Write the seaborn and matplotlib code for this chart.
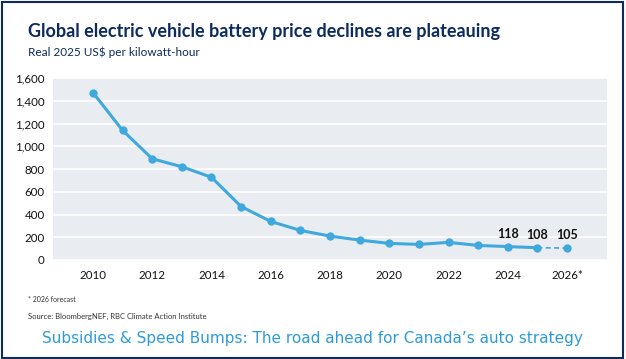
import pandas as pd
import numpy as np
import matplotlib.pyplot as plt
import seaborn as sns

# battery pack prices, real 2025 US$/kWh (2026 is a forecast)
years = [2010, 2011, 2012, 2013, 2014, 2015, 2016, 2017, 2018,
         2019, 2020, 2021, 2022, 2023, 2024, 2025, 2026]
prices = [1471, 1139, 890, 820, 727, 470, 339, 260, 210,
          175, 146, 137, 155, 128, 118, 108, 105]
labelled_years = [2024, 2025, 2026]
tick_years = [2010, 2012, 2014, 2016, 2018, 2020, 2022, 2024, 2026]
tick_labels = ['2010', '2012', '2014', '2016', '2018', '2020', '2022', '2024', '2026*']

df = pd.DataFrame({'Year': years, 'Price': prices})
actual = df[df['Year'] <= 2025]
forecast = df[df['Year'] >= 2025]

navy = '#0d2b5e'
blue = '#3fa9de'

sns.set_style('white')
plt.rcParams['font.family'] = ['Lato', 'DejaVu Sans']

fig = plt.figure(figsize=(6.26, 3.59), dpi=100)
ax = fig.add_axes([53/626, 1-260/359, 554/626, 182/359])
ax.set_facecolor('#e9edf1')

sns.lineplot(x='Year', y='Price', data=actual, color=blue, lw=2.2, marker='o',
             markersize=6, markeredgewidth=0, ax=ax)
sns.lineplot(x='Year', y='Price', data=forecast, color=blue, lw=1.2, ls=(0, (3, 2)),
             ax=ax)
sns.scatterplot(x='Year', y='Price', data=forecast.tail(1), color=blue, s=36,
                linewidth=0, ax=ax, zorder=5)

for y in labelled_years:
    v = df.loc[df['Year'] == y, 'Price'].iloc[0]
    ax.annotate(str(v), (y, v), xytext=(0, 5), textcoords='offset points',
                ha='center', va='bottom', fontsize=9, fontweight='bold', color='#111111')

ax.set_ylim(0, 1600)
ax.set_xlim(2008.65, 2027.35)
ax.set_yticks(range(0, 1601, 200))
ax.set_yticklabels([f'{v:,}' for v in range(0, 1601, 200)])
ax.set_xticks(tick_years)
ax.set_xticklabels(tick_labels)
ax.grid(axis='y', color='white', lw=1.2)
ax.set_axisbelow(True)
for s in ax.spines.values():
    s.set_visible(False)
ax.tick_params(axis='both', length=0, labelsize=8.3, colors='#111111')
ax.tick_params(axis='y', pad=6)
ax.tick_params(axis='x', pad=7)
ax.set_xlabel('')
ax.set_ylabel('')

fig.text(28/626, 1-32/359, 'Global electric vehicle battery price declines are plateauing',
         fontsize=13, fontweight='bold', color=navy, va='center')
fig.text(28/626, 1-52/359, 'Real 2025 US$ per kilowatt-hour',
         fontsize=8.5, color=navy, va='center')
fig.text(28/626, 1-299/359, '* 2026 forecast', fontsize=5, color='#333333', va='center')
fig.text(28/626, 1-316/359, 'Source: BloombergNEF, RBC Climate Action Institute',
         fontsize=5.5, color='#333333', va='center')
fig.text(0.499, 1-338/359, 'Subsidies & Speed Bumps: The road ahead for Canada\u2019s auto strategy',
         fontsize=11, color='#2e9bd9', ha='center', va='center',
         family=['DejaVu Sans'])

border = plt.Rectangle((0.003, 0.004), 0.992, 0.99, transform=fig.transFigure,
                       fill=False, ec=navy, lw=1.5)
fig.patches.append(border)

plt.savefig('out.png', dpi=100)
